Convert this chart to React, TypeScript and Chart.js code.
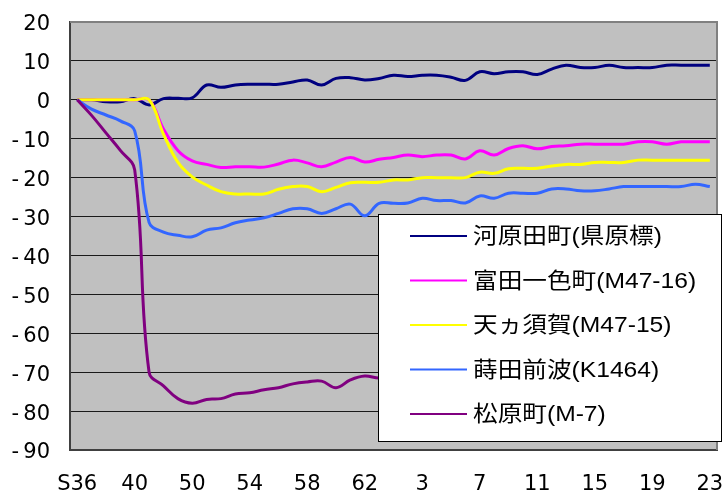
import React, { useEffect, useRef } from 'react';
import { Chart, registerables } from 'chart.js';

Chart.register(...registerables);

// Category axis: survey years (Showa 36 … Heisei 23)
const categories = [
  'S36', '37', '38', '39', '40', '42', '44', '47',
  '50', '51', '52', '53', '54', '55', '56', '57', '58', '59', '60', '61', '62', '63',
  '1', '2', '3', '4', '5', '6', '7', '8', '9', '10', '11', '12', '13', '14', '15', '16',
  '17', '18', '19', '20', '21', '22', '23',
];

// Labels shown under the axis
const tickLabels = ['S36', '40', '50', '54', '58', '62', '3', '7', '11', '15', '19', '23'];

const seriesNames = [
  '河原田町(県原標)',
  '富田一色町(M47-16)',
  '天ヵ須賀(M47-15)',
  '蒔田前波(K1464)',
  '松原町(M-7)',
];

const kawaharada = [
  0, 0, -0.5, -0.5, 0.3, -1.3, 0.3, 0.4, 0.5, 3.8,
  3.2, 3.8, 4, 4, 4, 4.6, 5.1, 3.8, 5.5, 5.7,
  5.1, 5.5, 6.3, 6, 6.3, 6.3, 5.8, 5, 7.2, 6.7,
  7.2, 7.2, 6.5, 7.9, 8.9, 8.3, 8.3, 8.9, 8.3, 8.3,
  8.3, 8.9, 8.9, 8.9, 8.9,
];

const tomidaIsshiki = [
  0, 0, 0, 0, 0, 0, -7.5, -13, -15.7, -16.6,
  -17.4, -17.2, -17.2, -17.3, -16.5, -15.5, -16.2, -17.2, -16, -14.8,
  -16, -15.3, -14.8, -14.2, -14.6, -14.2, -14.2, -15.2, -13.1, -14.2,
  -12.5, -11.8, -12.6, -12, -11.8, -11.4, -11.4, -11.4, -11.4, -10.8,
  -10.8, -11.4, -10.8, -10.8, -10.8,
];

const amagasuka = [
  0, 0, 0, 0, 0, 0, -8.8, -16, -19.8, -21.9,
  -23.6, -24.2, -24.2, -24.2, -23, -22.3, -22.3, -23.6, -22.5, -21.3,
  -21.2, -21.2, -20.6, -20.6, -20, -20, -20, -20, -18.6, -18.9,
  -17.7, -17.6, -17.6, -17, -16.6, -16.6, -16.1, -16.1, -16.1, -15.5,
  -15.5, -15.5, -15.5, -15.5, -15.5,
];

const maitaMaeba = [
  0, -2.4, -3.9, -5.4, -8, -31.5, -34, -34.8, -35.2, -33.5,
  -32.9, -31.6, -30.9, -30.3, -29.2, -28, -28, -29.2, -28, -26.8,
  -29.8, -26.6, -26.6, -26.5, -25.3, -25.9, -25.9, -26.5, -24.7, -25.3,
  -24, -24, -24, -22.9, -22.9, -23.4, -23.4, -22.9, -22.3, -22.3,
  -22.3, -22.3, -22.3, -21.7, -22.3,
];

const matsubara = [
  0, -4, -8.5, -13, -18, -70, -73.5, -76.8, -78, -77,
  -76.8, -75.6, -75.3, -74.5, -74, -73, -72.5, -72.3, -74, -72,
  -71, -71.5, -71, -71, -70.5, -70.5, -70, -70, -70, -69.5,
  -69.5, -69, -69, -69, -68.5, -68.5, -68.5, -68, -68, -68,
  -68, -67.5, -67.5, -67.5, -67.5,
];

const seriesValues = [kawaharada, tomidaIsshiki, amagasuka, maitaMaeba, matsubara];
const seriesColors = ['#000080', '#FF00FF', '#FFFF00', '#3366FF', '#800080'];

const Y_MIN = -90;
const Y_MAX = 20;
const Y_STEP = 10;

const plotBackground = {
  id: 'plotBackground',
  beforeDraw(chart: any) {
    const { ctx, chartArea: a } = chart;
    ctx.save();
    ctx.fillStyle = '#C0C0C0';
    ctx.fillRect(a.left, a.top, a.right - a.left, a.bottom - a.top);
    ctx.restore();
  },
  afterDatasetsDraw(chart: any) {
    const { ctx, chartArea: a } = chart;
    ctx.save();
    ctx.strokeStyle = '#808080';
    ctx.lineWidth = 2;
    ctx.beginPath();
    ctx.moveTo(a.left, a.top);
    ctx.lineTo(a.right, a.top);
    ctx.lineTo(a.right, a.bottom);
    ctx.stroke();
    ctx.restore();
  },
};

const boxLegend = {
  id: 'boxLegend',
  afterDatasetsDraw(chart: any) {
    const { ctx } = chart;
    const lx = 378.5, ly = 214.5, lw = 343, lh = 227;
    ctx.save();
    ctx.fillStyle = '#FFFFFF';
    ctx.fillRect(lx, ly, lw, lh);
    ctx.strokeStyle = '#000000';
    ctx.lineWidth = 1;
    ctx.strokeRect(lx, ly, lw, lh);
    chart.data.datasets.forEach((ds: any, i: number) => {
      const y = 236 + i * 44.5;
      ctx.strokeStyle = ds.borderColor;
      ctx.lineWidth = 2;
      ctx.beginPath();
      ctx.moveTo(410, y);
      ctx.lineTo(467, y);
      ctx.stroke();
      ctx.save();
      ctx.translate(473, y + 1);
      ctx.scale(1.12, 1);
      ctx.fillStyle = '#000000';
      ctx.font = '22px "Liberation Sans", "Noto Sans CJK JP"';
      ctx.textBaseline = 'middle';
      ctx.textAlign = 'left';
      ctx.fillText(ds.label, 0, 0);
      ctx.restore();
    });
    ctx.restore();
  },
};

export default function App() {
  const canvasRef = useRef<HTMLCanvasElement>(null);

  useEffect(() => {
    const canvas = canvasRef.current;
    if (!canvas) return;
    const chart = new Chart(canvas, {
      type: 'line',
      data: {
        labels: categories,
        datasets: seriesNames.map((name, i) => ({
          label: name,
          data: seriesValues[i],
          borderColor: seriesColors[i],
          backgroundColor: seriesColors[i],
          borderWidth: 3,
          pointRadius: 0,
          pointHoverRadius: 0,
          tension: 0.4,
          fill: false,
          order: seriesNames.length - i,
        })),
      },
      options: {
        animation: false,
        responsive: false,
        devicePixelRatio: 1,
        layout: { padding: { top: 22, right: 9, left: 0, bottom: 0 } },
        plugins: {
          legend: { display: false },
          tooltip: { enabled: false },
        },
        scales: {
          x: {
            type: 'category',
            offset: true,
            grid: { display: false, drawTicks: false },
            border: { display: true, color: '#404040', width: 2 },
            ticks: {
              autoSkip: false,
              maxRotation: 0,
              minRotation: 0,
              padding: 22,
              color: '#000000',
              font: { family: '"DejaVu Sans"', size: 21 },
              callback: (_v: any, index: number) =>
                tickLabels.includes(categories[index]) ? categories[index] : '',
            },
            afterFit: (scale: any) => {
              scale.height = 47;
              scale.paddingLeft = 0;
              scale.paddingRight = 0;
            },
          },
          y: {
            min: Y_MIN,
            max: Y_MAX,
            grid: { color: '#1A1A1A', lineWidth: 1, drawTicks: false },
            border: { display: true, color: '#404040', width: 2 },
            ticks: {
              stepSize: Y_STEP,
              padding: 20,
              labelOffset: 3,
              color: '#000000',
              font: { family: '"DejaVu Sans"', size: 21 },
              callback: (v: any) => (Number(v) < 0 ? '-\u2009' + Math.abs(Number(v)) : String(v)),
            },
            afterFit: (scale: any) => {
              scale.width = 70;
              scale.paddingTop = 0;
              scale.paddingBottom = 0;
            },
          },
        },
      },
      plugins: [plotBackground, boxLegend],
    });
    return () => chart.destroy();
  }, []);

  return (
    <div style={{ position: 'absolute', left: 0, top: 0, width: 726, height: 497 }}>
      <canvas ref={canvasRef} width={726} height={497} style={{ display: 'block', width: 726, height: 497 }} />
    </div>
  );
}
